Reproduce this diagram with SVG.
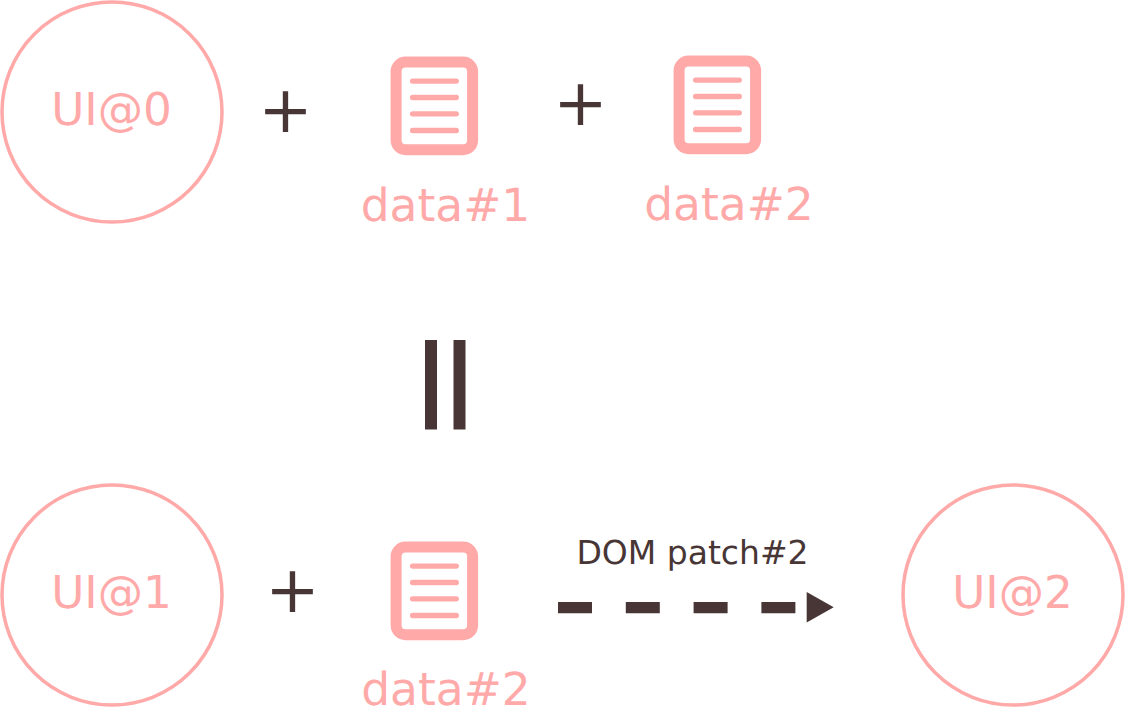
<svg xmlns="http://www.w3.org/2000/svg" width="1125" height="707" viewBox="0 0 1125 707">
<style>
text{font-family:"DejaVu Sans",sans-serif;text-rendering:geometricPrecision}
.c{fill:#fff;stroke:#ffa9a9;stroke-width:3.5}
.u{font-size:45.300px;fill:#ffa9a9;text-anchor:middle}
.d{font-size:45.500px;fill:#ffa9a9;text-anchor:middle}
.p{font-size:65px;fill:#483636;text-anchor:middle}
.b{fill:#fff;stroke:#ffa9a9;stroke-width:11}
.l{stroke:#ffa9a9;stroke-width:5.300;stroke-linecap:round}
</style>
<defs>
<g id="doc">
<rect class="b" x="-38.200" y="-43.800" width="76.500" height="87.700" rx="9.500"/>
<path class="l" d="M-21.700-24.700H22M-21.700-8.300H22M-21.700 8H22M-21.700 24.700H22"/>
</g>
</defs>
<g id="ui0"><circle class="c" cx="112" cy="112" r="110"/><text class="u" x="111.500" y="125">UI@0</text></g>
<g id="plus1"><text class="p" x="285.500" y="132.400">+</text></g>
<g id="doc1"><use href="#doc" x="434.300" y="105.800"/><text class="d" x="445.500" y="220.500">data#1</text></g>
<g id="plus2"><text class="p" x="580.500" y="125.400">+</text></g>
<g id="doc2"><use href="#doc" x="717.300" y="104.800"/><text class="d" x="729" y="219.500">data#2</text></g>
<g id="equals"><rect x="425" y="340" width="12" height="89.500" fill="#483636"/><rect x="453.500" y="340" width="12" height="89.500" fill="#483636"/></g>
<g id="ui1"><circle class="c" cx="112" cy="595" r="110"/><text class="u" x="111.500" y="608">UI@1</text></g>
<g id="plus3"><text class="p" x="292.500" y="612.400">+</text></g>
<g id="doc3"><use href="#doc" x="434.300" y="590.800"/><text class="d" x="446" y="705">data#2</text></g>
<g id="ui2"><circle class="c" cx="1013" cy="595" r="110"/><text class="u" x="1012.500" y="608">UI@2</text></g>
<g id="connectors">
<path d="M558 607.700H808" fill="none" stroke="#483636" stroke-width="11.300" stroke-dasharray="34 33.800"/>
<path d="M806.700 592L833.700 607.200L806.700 622.400Z" fill="#483636"/>
<text x="692.500" y="564" font-size="33" fill="#483636" text-anchor="middle">DOM patch#2</text>
</g>
</svg>
